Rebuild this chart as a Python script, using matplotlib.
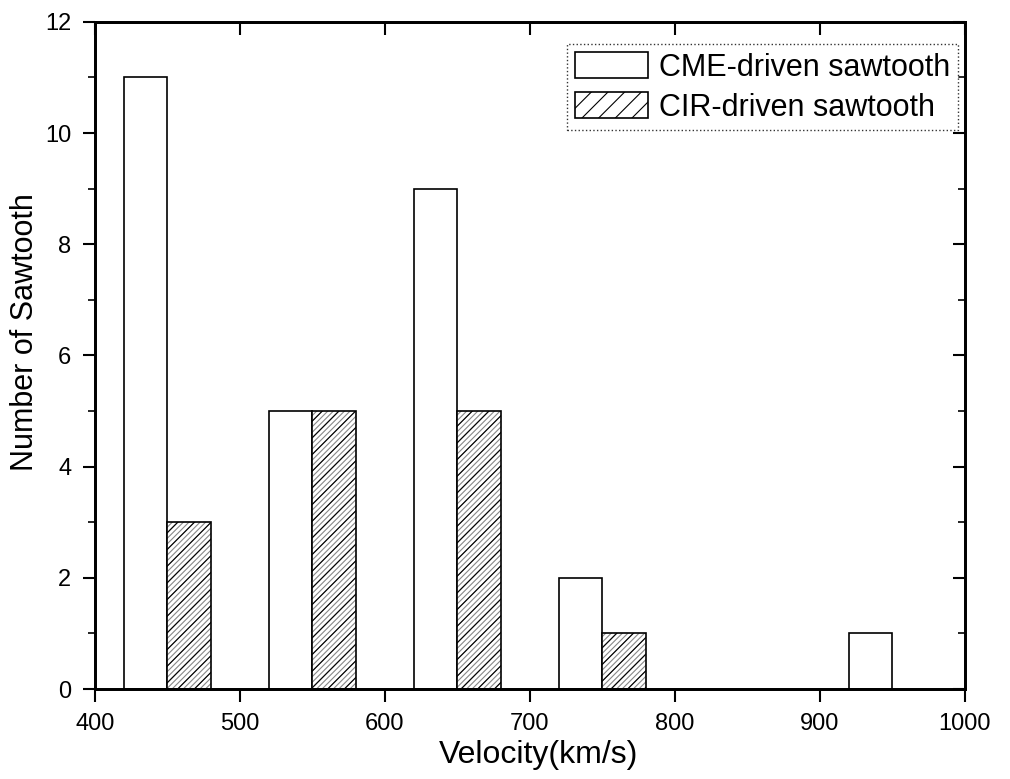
import numpy as np
import matplotlib as mpl
import matplotlib.pyplot as plt
from matplotlib.ticker import MultipleLocator, NullLocator

mpl.use("Agg")
plt.rcParams["font.family"] = ["Liberation Sans", "DejaVu Sans"]
plt.rcParams["hatch.linewidth"] = 0.8

# bin left edges (km/s) and counts
cme_left = [420, 520, 620, 720, 920]
cme_counts = [11, 5, 9, 2, 1]
cir_left = [450, 550, 650, 750]
cir_counts = [3, 5, 5, 1]
bar_width = 30

fig = plt.figure(figsize=(10.1, 7.79), dpi=100)
ax = fig.add_axes([0.094, 0.1155, 0.861, 0.8565])

ax.bar(cme_left, cme_counts, width=bar_width, align="edge",
       facecolor="white", edgecolor="black", linewidth=1.2,
       label="CME-driven sawtooth")
# fine grey hatch underneath, coarser black diagonals on top
ax.bar(cir_left, cir_counts, width=bar_width, align="edge",
       facecolor="white", edgecolor="#888888", linewidth=0, hatch="//////")
ax.bar(cir_left, cir_counts, width=bar_width, align="edge",
       facecolor="none", edgecolor="black", linewidth=1.2, hatch="//",
       label="CIR-driven sawtooth")

ax.set_xlim(400, 1000)
ax.set_ylim(0, 12)
ax.xaxis.set_major_locator(MultipleLocator(100))
ax.yaxis.set_major_locator(MultipleLocator(2))
ax.yaxis.set_minor_locator(MultipleLocator(1))
ax.xaxis.set_minor_locator(NullLocator())

for s in ax.spines.values():
    s.set_linewidth(1.8)

ax.tick_params(axis="both", which="major", labelsize=17, width=1.5,
               direction="out", length=9)
ax.tick_params(axis="x", which="major", pad=8)
ax.tick_params(axis="y", which="major", pad=8)
ax.tick_params(axis="y", which="minor", direction="out", length=5, width=1.2)

# inward ticks on top and right
axr = ax.twinx()
axr.set_ylim(0, 12)
axr.yaxis.set_major_locator(MultipleLocator(2))
axr.yaxis.set_minor_locator(MultipleLocator(1))
axr.tick_params(which="major", direction="in", length=9, width=1.5, labelright=False)
axr.tick_params(which="minor", direction="in", length=5, width=1.2)
axt = ax.twiny()
axt.set_xlim(400, 1000)
axt.xaxis.set_major_locator(MultipleLocator(100))
axt.xaxis.set_minor_locator(NullLocator())
axt.tick_params(direction="in", length=9, width=1.5, labeltop=False)
for a in (axr, axt):
    for s in a.spines.values():
        s.set_linewidth(1.8)

ax.set_xlabel("Velocity(km/s)", fontsize=23)
ax.set_ylabel("Number of Sawtooth", fontsize=22)
ax.xaxis.set_label_coords(0.51, -0.099)
ax.yaxis.set_label_coords(-0.080, 0.535)
ax.xaxis.label.set_va("center")
ax.yaxis.label.set_va("center")

handles, labels = ax.get_legend_handles_labels()
leg = axt.legend(handles, labels, loc="upper right",
                 fontsize=22, frameon=True, fancybox=False,
                 handlelength=2.4, handleheight=0.95, borderpad=0.25,
                 labelspacing=0.3, handletextpad=0.35, borderaxespad=0,
                 bbox_to_anchor=(0.992, 0.966))
leg.get_frame().set_edgecolor("black")
leg.get_frame().set_linestyle(":")
leg.get_frame().set_linewidth(1.0)

plt.savefig("out.png", dpi=100)
